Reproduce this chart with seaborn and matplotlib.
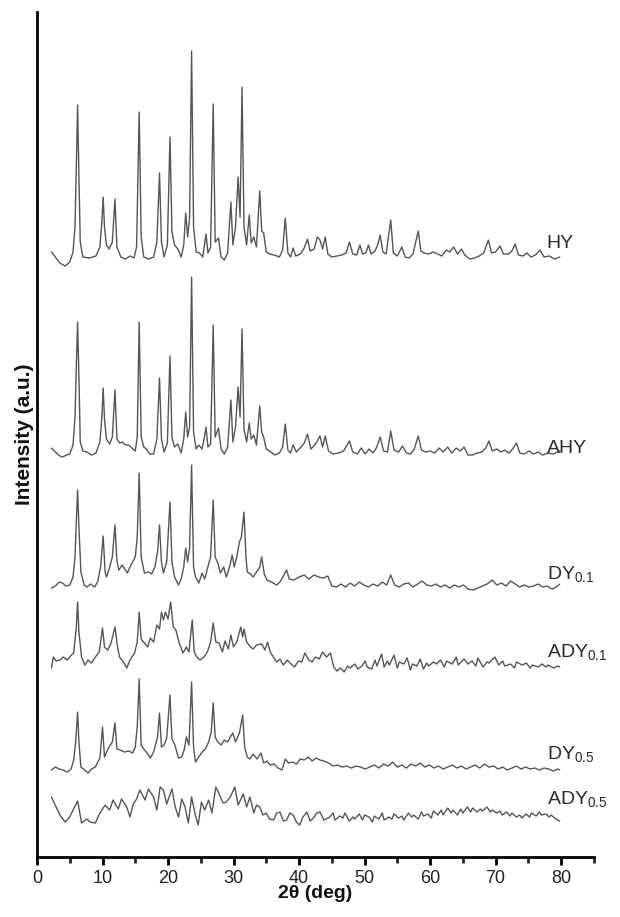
import matplotlib
matplotlib.use("Agg")
import matplotlib.pyplot as plt
from matplotlib import font_manager
from matplotlib.ticker import MultipleLocator
import seaborn as sns
import pandas as pd

# ---------------- data (2theta, intensity in a.u., already stacked) -------------
HY = [(2.2,605),(2.8,600),(3.5,594),(4.3,591),(5.0,595),(5.5,605),(5.8,630),(6.0,690),(6.2,752),(6.4,680),
      (6.6,615),(7.0,600),(8.0,599),(9.0,601),(9.6,610),(9.9,635),(10.1,660),(10.3,630),(10.6,612),(11.0,608),
      (11.5,615),(11.9,658),(12.2,610),(12.8,600),(13.5,598),(14.2,601),(14.8,599),(15.2,610),(15.6,745),(15.9,620),
      (16.3,600),(17.0,598),(17.8,600),(18.3,615),(18.7,684),(19.0,615),(19.4,600),(19.9,612),(20.3,720),(20.6,625),
      (21.0,612),(21.5,608),(22.0,600),(22.4,612),(22.7,644),(23.0,620),(23.3,640),(23.6,806),(23.9,630),(24.3,605),
      (24.8,604),(25.3,600),(25.8,623),(26.1,604),(26.5,610),(26.9,753),(27.2,615),(27.7,619),(28.1,600),(28.6,597),
      (29.1,604),(29.6,655),(29.9,612),(30.3,630),(30.7,680),(31.0,640),(31.3,770),(31.6,630),(32.0,612),(32.4,642),
      (32.7,614),(33.1,620),(33.5,610),(34.0,666),(34.3,626),(34.6,624),(35.0,605),(35.5,603),(36.2,602),(37.0,600),
      (37.5,607),(37.9,639),(38.3,604),(38.7,600),(39.1,609),(39.5,601),(40.2,603),(40.8,609),(41.3,618),(41.7,606),
      (42.3,608),(42.8,620),(43.2,617),(43.6,608),(44.0,620),(44.4,603),(45.0,600),(45.8,601),(46.5,602),(47.2,604),
      (47.7,615),(48.2,603),(48.8,602),(49.3,612),(49.7,603),(50.2,604),(50.6,612),(51.0,603),(51.6,606),(52.0,612),
      (52.4,622),(52.8,605),(53.3,603),(54.0,637),(54.4,604),(55.0,601),(55.7,610),(56.2,600),(56.8,599),(57.4,603),
      (58.2,626),(58.6,606),(59.1,604),(59.8,603),(60.5,605),(61.2,603),(61.8,601),(62.5,607),(63.0,605),(63.6,610),
      (64.2,603),(64.8,608),(65.3,602),(66.1,598),(66.8,599),(67.5,601),(68.2,604),(68.9,617),(69.4,604),(70.0,605),
      (70.7,611),(71.2,603),(72.0,603),(72.5,606),(73.0,613),(73.5,602),(74.2,601),(74.8,604),(75.4,600),(76.1,602),
      (76.8,607),(77.4,600),(78.2,601),(79.0,598),(79.8,600)]

AHY = [(2.2,409),(2.8,405),(3.5,401),(3.9,400),(4.5,402),(5.0,403),(5.5,412),(5.8,440),(6.0,490),(6.2,535),
       (6.4,480),(6.6,415),(7.0,406),(7.6,405),(8.3,402),(9.0,404),(9.6,415),(9.9,440),(10.1,469),(10.3,438),
       (10.6,418),(11.1,413),(11.5,420),(11.9,467),(12.2,418),(12.6,414),(13.0,415),(13.5,412),(14.0,412),(14.5,409),
       (15.0,406),(15.3,420),(15.6,535),(15.9,420),(16.3,410),(16.7,408),(17.2,403),(17.8,403),(18.3,418),(18.7,479),
       (19.0,418),(19.4,405),(19.9,414),(20.3,501),(20.6,420),(21.0,410),(21.5,413),(22.0,404),(22.4,418),(22.7,445),
       (23.0,420),(23.3,430),(23.6,580),(23.9,425),(24.3,408),(24.7,412),(25.2,408),(25.5,418),(25.8,430),(26.1,410),
       (26.5,413),(26.9,532),(27.2,420),(27.7,429),(28.1,408),(28.6,403),(29.1,410),(29.6,457),(29.9,415),(30.3,430),
       (30.7,470),(31.0,440),(31.3,528),(31.6,428),(32.0,415),(32.4,434),(32.7,418),(33.1,422),(33.5,412),(34.0,451),
       (34.3,425),(34.6,420),(35.0,408),(35.5,406),(36.3,402),(37.0,404),(37.5,410),(37.9,433),(38.3,407),(38.7,404),
       (39.1,412),(39.6,405),(40.3,410),(40.8,414),(41.3,423),(41.8,408),(42.4,412),(42.8,416),(43.2,421),(43.6,410),
       (44.0,421),(44.5,406),(45.2,403),(46.0,404),(46.8,406),(47.7,416),(48.2,405),(48.9,403),(49.5,409),(50.1,403),
       (50.7,408),(51.3,404),(51.8,409),(52.4,420),(52.9,406),(53.5,405),(54.0,426),(54.5,407),(55.2,405),(55.8,411),
       (56.4,404),(57.0,403),(57.6,408),(58.2,421),(58.7,407),(59.3,405),(60.0,406),(60.7,404),(61.4,409),(62.0,405),
       (62.7,410),(63.3,404),(64.0,409),(64.6,406),(65.2,410),(65.8,402),(66.5,402),(67.2,404),(67.9,405),(68.5,409),
       (69.0,416),(69.5,406),(70.2,408),(70.8,405),(71.4,407),(72.1,404),(72.7,409),(73.2,414),(73.7,404),(74.4,403),
       (75.1,406),(75.8,403),(76.5,405),(77.2,402),(78.0,404),(78.8,403),(79.8,406)]

DY01 = [(2.2,269),(2.8,271),(3.4,275),(3.9,274),(4.4,271),(5.0,272),(5.5,280),(5.8,300),(6.0,335),(6.2,367),
        (6.4,330),(6.7,285),(7.2,272),(7.6,270),(8.2,273),(8.8,270),(9.3,276),(9.7,290),(10.1,321),(10.4,285),
        (10.6,280),(11.0,288),(11.5,300),(11.9,332),(12.2,296),(12.5,287),(13.0,292),(13.4,288),(13.8,284),(14.2,290),
        (14.5,294),(15.0,300),(15.3,320),(15.6,384),(15.9,300),(16.4,284),(17.0,285),(17.5,283),(18.0,290),(18.4,305),
        (18.7,332),(19.0,295),(19.3,284),(19.8,295),(20.3,355),(20.6,295),(21.0,280),(21.6,272),(22.0,278),(22.4,290),
        (22.7,309),(23.0,295),(23.3,310),(23.6,392),(23.9,290),(24.2,280),(24.7,274),(25.2,284),(25.6,278),(26.0,288),
        (26.5,300),(26.9,357),(27.2,300),(27.6,294),(28.0,284),(28.5,290),(28.9,280),(29.4,290),(29.8,302),(30.1,290),
        (30.5,300),(30.9,315),(31.2,320),(31.6,345),(31.9,300),(32.1,285),(32.6,283),(33.0,280),(33.5,285),(34.0,290),
        (34.3,300),(34.7,283),(35.1,277),(35.8,275),(36.6,272),(37.2,276),(37.7,282),(38.1,287),(38.5,278),(39.2,277),
        (40.0,280),(40.8,282),(41.5,278),(42.3,282),(43.0,280),(43.7,279),(44.4,281),(45.0,271),(45.7,270),(46.4,273),
        (47.1,270),(47.8,274),(48.5,271),(49.2,275),(49.9,272),(50.6,270),(51.3,273),(52.0,271),(52.7,275),(53.4,272),
        (54.0,282),(54.6,272),(55.3,270),(56.0,273),(56.7,274),(57.4,270),(58.1,273),(58.8,276),(59.5,272),(60.2,271),
        (60.9,273),(61.6,270),(62.3,272),(63.0,269),(63.7,272),(64.4,270),(65.1,272),(65.8,268),(66.6,267),(67.3,269),
        (68.0,271),(68.7,273),(69.5,277),(70.2,272),(70.9,274),(71.6,271),(72.3,276),(73.0,273),(73.7,270),(74.4,272),
        (75.1,270),(75.8,271),(76.5,273),(77.2,270),(77.9,271),(78.6,268),(79.3,270),(79.8,273)]

ADY01 = [(2.2,189),(2.5,200),(2.9,196),(3.5,197),(4.0,200),(4.6,197),(5.1,201),(5.6,204),(6.0,230),(6.2,255),
         (6.4,225),(6.8,200),(7.3,192),(7.8,197),(8.3,194),(8.9,200),(9.5,205),(10.0,229),(10.3,210),(10.8,207),
         (11.3,214),(11.9,230),(12.3,210),(12.6,200),(13.2,195),(13.7,189),(14.2,197),(14.9,204),(15.3,215),(15.6,245),
         (15.9,218),(16.4,214),(16.9,210),(17.3,219),(17.8,215),(18.3,232),(18.7,228),(19.0,245),(19.3,237),(19.6,245),
         (20.0,238),(20.4,255),(20.8,230),(21.2,227),(21.7,214),(22.3,204),(22.8,210),(23.2,205),(23.7,237),(24.0,205),
         (24.4,200),(24.9,197),(25.5,200),(26.0,205),(26.5,215),(26.9,234),(27.3,215),(27.8,214),(28.3,205),(28.7,216),
         (29.2,208),(29.6,222),(30.0,210),(30.5,215),(31.1,230),(31.4,220),(31.6,228),(32.0,215),(32.6,210),(33.0,208),
         (33.5,212),(34.3,213),(34.8,207),(35.2,215),(35.6,205),(36.1,200),(36.6,195),(37.1,198),(37.6,192),(38.2,197),
         (38.8,193),(39.3,190),(39.9,196),(40.4,195),(40.9,204),(41.5,197),(42.0,195),(42.5,200),(43.1,198),(43.6,205),
         (44.2,200),(44.8,204),(45.3,190),(45.8,186),(46.3,189),(46.9,185),(47.4,191),(47.8,189),(48.5,193),(49.0,188),
         (49.6,191),(50.1,196),(50.4,190),(51.1,188),(51.6,197),(51.9,191),(52.6,203),(53.0,190),(53.5,196),(53.8,192),
         (54.5,202),(55.0,189),(55.3,195),(56.0,193),(56.5,199),(57.0,187),(57.3,193),(58.0,191),(58.5,198),(59.0,188),
         (59.5,194),(59.8,191),(60.5,195),(61.0,193),(61.6,197),(62.2,190),(62.5,196),(63.4,193),(64.0,200),(64.3,192),
         (65.2,198),(65.8,193),(66.4,196),(67.0,191),(67.3,199),(68.1,190),(68.7,195),(69.0,194),(69.9,200),(70.5,192),
         (71.1,196),(71.4,191),(72.3,193),(72.9,189),(73.2,195),(74.1,192),(74.7,194),(75.3,189),(75.6,192),(76.5,190),
         (77.1,193),(77.7,190),(78.0,192),(78.9,189),(79.5,191),(79.8,190)]

DY05 = [(2.2,87),(2.8,90),(3.4,88),(4.0,87),(4.6,85),(5.2,88),(5.6,97),(5.9,115),(6.2,145),(6.4,115),
        (6.7,90),(7.3,87),(7.8,84),(8.3,88),(8.9,90),(9.6,99),(10.0,130),(10.3,100),(10.9,109),(11.5,115),
        (11.9,134),(12.2,108),(12.7,107),(13.3,105),(14.0,106),(14.6,104),(15.0,110),(15.3,130),(15.6,178),(15.9,112),
        (16.3,108),(16.8,104),(17.3,99),(17.8,105),(18.4,120),(18.7,144),(19.0,110),(19.4,112),(19.8,119),(20.3,162),
        (20.6,118),(21.0,113),(21.6,99),(22.1,100),(22.5,108),(22.8,120),(23.2,112),(23.6,175),(23.9,110),(24.2,95),
        (24.7,100),(25.2,105),(25.7,108),(26.2,115),(26.6,125),(26.9,154),(27.2,120),(27.6,115),(28.1,112),(28.6,117),
        (29.1,115),(29.5,120),(29.9,124),(30.3,115),(30.9,124),(31.4,142),(31.7,110),(32.1,100),(32.5,98),(33.0,103),
        (33.6,98),(34.2,104),(34.6,94),(35.1,96),(35.6,92),(36.2,93),(36.8,89),(37.4,87),(37.9,98),(38.4,94),
        (39.0,95),(39.6,93),(40.2,98),(40.8,97),(41.4,100),(42.0,96),(42.6,99),(43.2,97),(43.8,96),(44.5,94),
        (45.2,91),(45.9,92),(46.6,90),(47.3,91),(48.0,89),(48.7,91),(49.4,90),(50.1,88),(50.8,90),(51.5,92),
        (52.2,89),(52.9,93),(53.6,91),(54.3,95),(55.0,90),(55.7,92),(56.4,89),(57.1,93),(57.8,91),(58.5,94),
        (59.2,90),(59.9,92),(60.6,89),(61.3,91),(62.0,88),(62.7,90),(63.4,92),(64.1,89),(64.8,91),(65.5,88),
        (66.2,90),(66.9,92),(67.6,89),(68.3,93),(69.0,90),(69.7,91),(70.4,88),(71.1,90),(71.8,87),(72.5,89),
        (73.2,91),(73.9,88),(74.6,90),(75.3,88),(76.0,89),(76.7,87),(77.4,89),(78.1,88),(78.8,86),(79.5,88),
        (79.8,87)]

ADY05 = [(2.2,60),(2.7,53),(3.5,42),(4.3,35),(5.0,40),(5.5,47),(6.2,56),(6.8,34),(7.6,38),(8.1,35),
         (8.9,34),(9.6,44),(10.4,52),(11.1,47),(11.6,57),(12.4,48),(12.9,58),(13.7,50),(14.2,40),(14.7,53),
         (15.2,58),(15.7,67),(16.5,57),(17.0,68),(17.8,60),(18.3,47),(18.8,70),(19.3,67),(19.8,53),(20.6,68),
         (21.1,50),(21.6,40),(22.1,58),(22.6,50),(23.1,34),(23.6,60),(24.1,44),(24.6,32),(25.1,55),(25.6,47),
         (26.2,57),(26.7,44),(27.3,70),(27.9,62),(28.4,54),(28.9,55),(29.5,60),(30.2,70),(30.7,52),(31.5,63),
         (32.0,50),(32.5,60),(33.1,44),(33.5,52),(34.0,50),(34.5,42),(35.0,44),(35.5,38),(36.1,37),(36.6,44),
         (37.1,45),(37.6,36),(38.1,37),(38.6,44),(39.1,42),(39.6,35),(40.1,32),(40.6,40),(41.2,45),(41.7,36),
         (42.2,39),(42.7,44),(43.2,45),(43.8,37),(44.7,40),(45.2,44),(45.5,37),(46.2,41),(46.7,39),(47.0,44),
         (47.7,36),(48.2,40),(48.5,38),(49.2,43),(49.7,37),(50.0,42),(50.7,40),(51.2,35),(51.5,41),(52.2,38),
         (52.7,44),(53.0,37),(53.7,40),(54.2,38),(54.5,43),(55.2,39),(55.7,41),(56.0,37),(56.7,44),(57.2,40),
         (57.5,42),(58.2,38),(58.7,45),(59.0,41),(59.7,43),(60.2,39),(60.5,46),(61.2,42),(61.7,47),(62.0,42),
         (62.7,49),(63.2,44),(63.5,47),(64.2,42),(64.7,48),(65.0,44),(65.7,50),(66.2,45),(66.5,49),(67.2,45),
         (67.7,48),(68.0,46),(68.7,50),(69.2,45),(69.5,47),(70.2,44),(70.7,46),(71.0,42),(71.7,45),(72.2,41),
         (72.5,44),(73.2,40),(73.7,42),(74.0,39),(74.7,43),(75.2,40),(75.5,44),(76.2,41),(76.7,45),(77.0,42),
         (77.7,43),(78.2,40),(78.5,42),(79.2,38),(79.8,36)]

samples = ["HY", "AHY", "DY0.1", "ADY0.1", "DY0.5", "ADY0.5"]
patterns = [HY, AHY, DY01, ADY01, DY05, ADY05]
label_texts = ["HY", "AHY", r"DY$_{\mathrm{0.1}}$", r"ADY$_{\mathrm{0.1}}$",
               r"DY$_{\mathrm{0.5}}$", r"ADY$_{\mathrm{0.5}}$"]
label_y = [609, 404, 278, 200, 98, 53]
label_x = 77.8
x_ticks = [0, 10, 20, 30, 40, 50, 60, 70, 80]

# ---------------- styling --------------------------------------------------------
sns.set_style("ticks")
names = {f.name for f in font_manager.fontManager.ttflist}
base_font = "Liberation Sans" if "Liberation Sans" in names else "DejaVu Sans"
tick_font = "Liberation Sans Narrow" if "Liberation Sans Narrow" in names else base_font
plt.rcParams["font.family"] = [base_font, "DejaVu Sans"]
plt.rcParams["mathtext.fontset"] = "custom"
plt.rcParams["mathtext.rm"] = base_font
plt.rcParams["mathtext.it"] = base_font + ":italic"
plt.rcParams["mathtext.bf"] = base_font + ":bold"

rows = []
for name, pat in zip(samples, patterns):
    for tt, inten in pat:
        rows.append({"sample": name, "two_theta": tt, "intensity": inten})
df = pd.DataFrame(rows)

fig = plt.figure(figsize=(6.2, 9.17), dpi=100)
ax = fig.add_axes([0.0597, 0.0654, 0.898, 0.9215])

sns.lineplot(data=df, x="two_theta", y="intensity", units="sample", estimator=None,
             color="#555555", linewidth=1.0, ax=ax, legend=False)

ax.set_xlim(0, 85)
ax.set_ylim(0, 845)
ax.set_xticks(x_ticks)
ax.xaxis.set_minor_locator(MultipleLocator(5))
ax.set_yticks([])
for s in ["top", "right"]:
    ax.spines[s].set_visible(False)
for s in ["left", "bottom"]:
    ax.spines[s].set_linewidth(2.0)
    ax.spines[s].set_color("black")
ax.tick_params(axis="x", which="major", direction="out", length=6, width=2.0,
               labelsize=13, pad=3, colors="black")
ax.tick_params(axis="x", which="minor", direction="out", length=4, width=2.0)
for lab in ax.get_xticklabels():
    lab.set_fontfamily(tick_font)
    lab.set_color("#222222")

ax.set_xlabel("2θ (deg)", fontsize=14, fontweight="bold", labelpad=-1, color="#111111")
ax.set_ylabel("Intensity (a.u.)", fontsize=15, fontweight="bold", labelpad=2, color="#111111")

for txt, yy in zip(label_texts, label_y):
    ax.text(label_x, yy, txt, fontsize=14, color="#2a2a2a", ha="left", va="baseline")

fig.savefig("out.png", dpi=100)
